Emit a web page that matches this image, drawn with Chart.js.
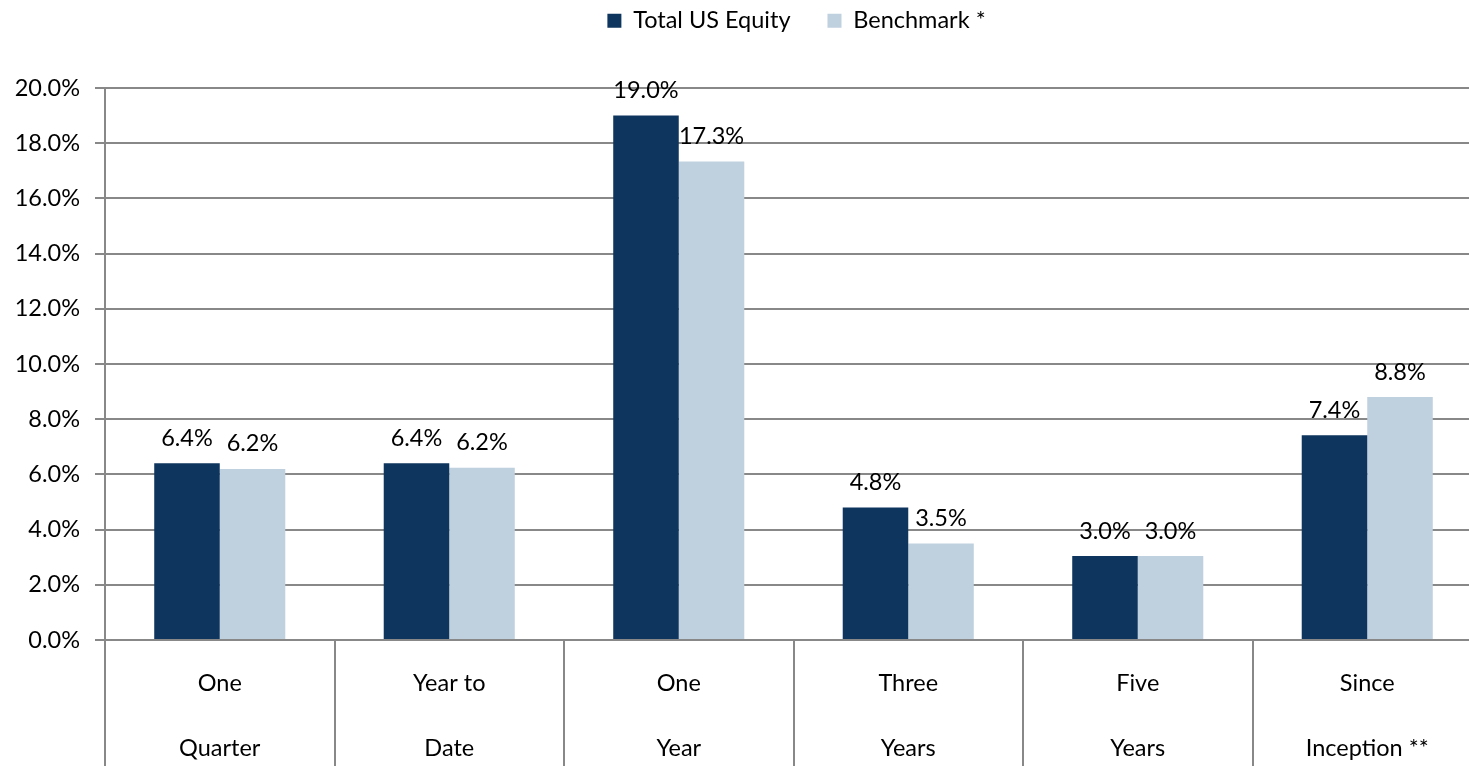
<!DOCTYPE html>
<html><head><meta charset="utf-8">
<script src="https://cdn.jsdelivr.net/npm/chart.js@4.4.1/dist/chart.umd.min.js"></script>
<style>html,body{margin:0;padding:0;overflow:hidden;background:#fff}#wrap{width:1593px;height:766px}</style>
</head><body><div id="wrap"><canvas id="c" width="1593" height="766"></canvas></div>
<script>
const categories = [['One','Quarter'],['Year to','Date'],['One','Year'],['Three','Years'],['Five','Years'],['Since','Inception **']];
const seriesNames = ['Total US Equity','Benchmark *'];
const totalUSEquity = [6.4, 6.4, 19.0, 4.8, 3.04, 7.42];
const benchmark = [6.2, 6.24, 17.34, 3.5, 3.04, 8.8];
const yMin = 0, yMax = 20, yStep = 2;

const FONT = 'Lato';
const FS = 23.5;

const valueLabels = {
  id: 'valueLabels',
  afterDatasetsDraw(chart) {
    const ctx = chart.ctx;
    ctx.save();
    ctx.font = FS + 'px ' + FONT;
    ctx.fillStyle = '#000';
    ctx.textAlign = 'center';
    ctx.textBaseline = 'middle';
    chart.data.datasets.forEach((ds, di) => {
      const meta = chart.getDatasetMeta(di);
      meta.data.forEach((bar, i) => {
        ctx.fillText(ds.data[i].toFixed(1) + '%', bar.x, bar.y - 25);
      });
    });
    ctx.restore();
  }
};

const legendSpace = {
  id: 'legendSpace',
  beforeLayout(chart) {
    const lg = chart.legend;
    if (lg && !lg._patched) {
      const f = lg.fit;
      lg.fit = function () { f.call(this); this.height = 116; };
      lg._patched = true;
    }
  },
  afterLayout(chart) {
    const lg = chart.legend;
    if (lg) { lg.left = 0; lg.right = chart.width; }
  }
};

new Chart(document.getElementById('c'), {
  type: 'bar',
  data: {
    labels: categories,
    datasets: [
      { label: seriesNames[0], data: totalUSEquity, backgroundColor: '#0E355E', borderWidth: 0 },
      { label: seriesNames[1], data: benchmark, backgroundColor: '#BFD0DF', borderWidth: 0 }
    ]
  },
  options: {
    responsive: false,
    devicePixelRatio: 1,
    animation: false,
    categoryPercentage: 0.571,
    barPercentage: 1,
    layout: { padding: { top: -28, right: 111, left: 0, bottom: 0 } },
    plugins: {
      tooltip: { enabled: false },
      legend: {
        position: 'top',
        labels: { boxWidth: 14, boxHeight: 14, padding: 37, color: '#000', font: { family: FONT, size: FS } }
      }
    },
    scales: {
      x: {
        offset: true,
        grid: { offset: true, drawOnChartArea: false, drawTicks: true, tickLength: 126, color: '#888', lineWidth: 2 },
        border: { display: true, color: '#888', width: 2 },
        ticks: { color: '#000', font: { family: FONT, size: FS, lineHeight: 65 / FS }, padding: -115.5, autoSkip: false, maxRotation: 0, minRotation: 0 },
        afterFit(s) { s.height = 126; }
      },
      y: {
        min: yMin, max: yMax,
        ticks: { stepSize: yStep, callback: v => Number(v).toFixed(1) + '%', color: '#000', font: { family: FONT, size: FS }, padding: 15 },
        grid: { color: '#888', lineWidth: 2, tickLength: 10, drawTicks: true },
        border: { display: true, color: '#888', width: 2 },
        afterFit(s) { s.width = 105; }
      }
    }
  },
  plugins: [valueLabels, legendSpace]
});
</script></body></html>
